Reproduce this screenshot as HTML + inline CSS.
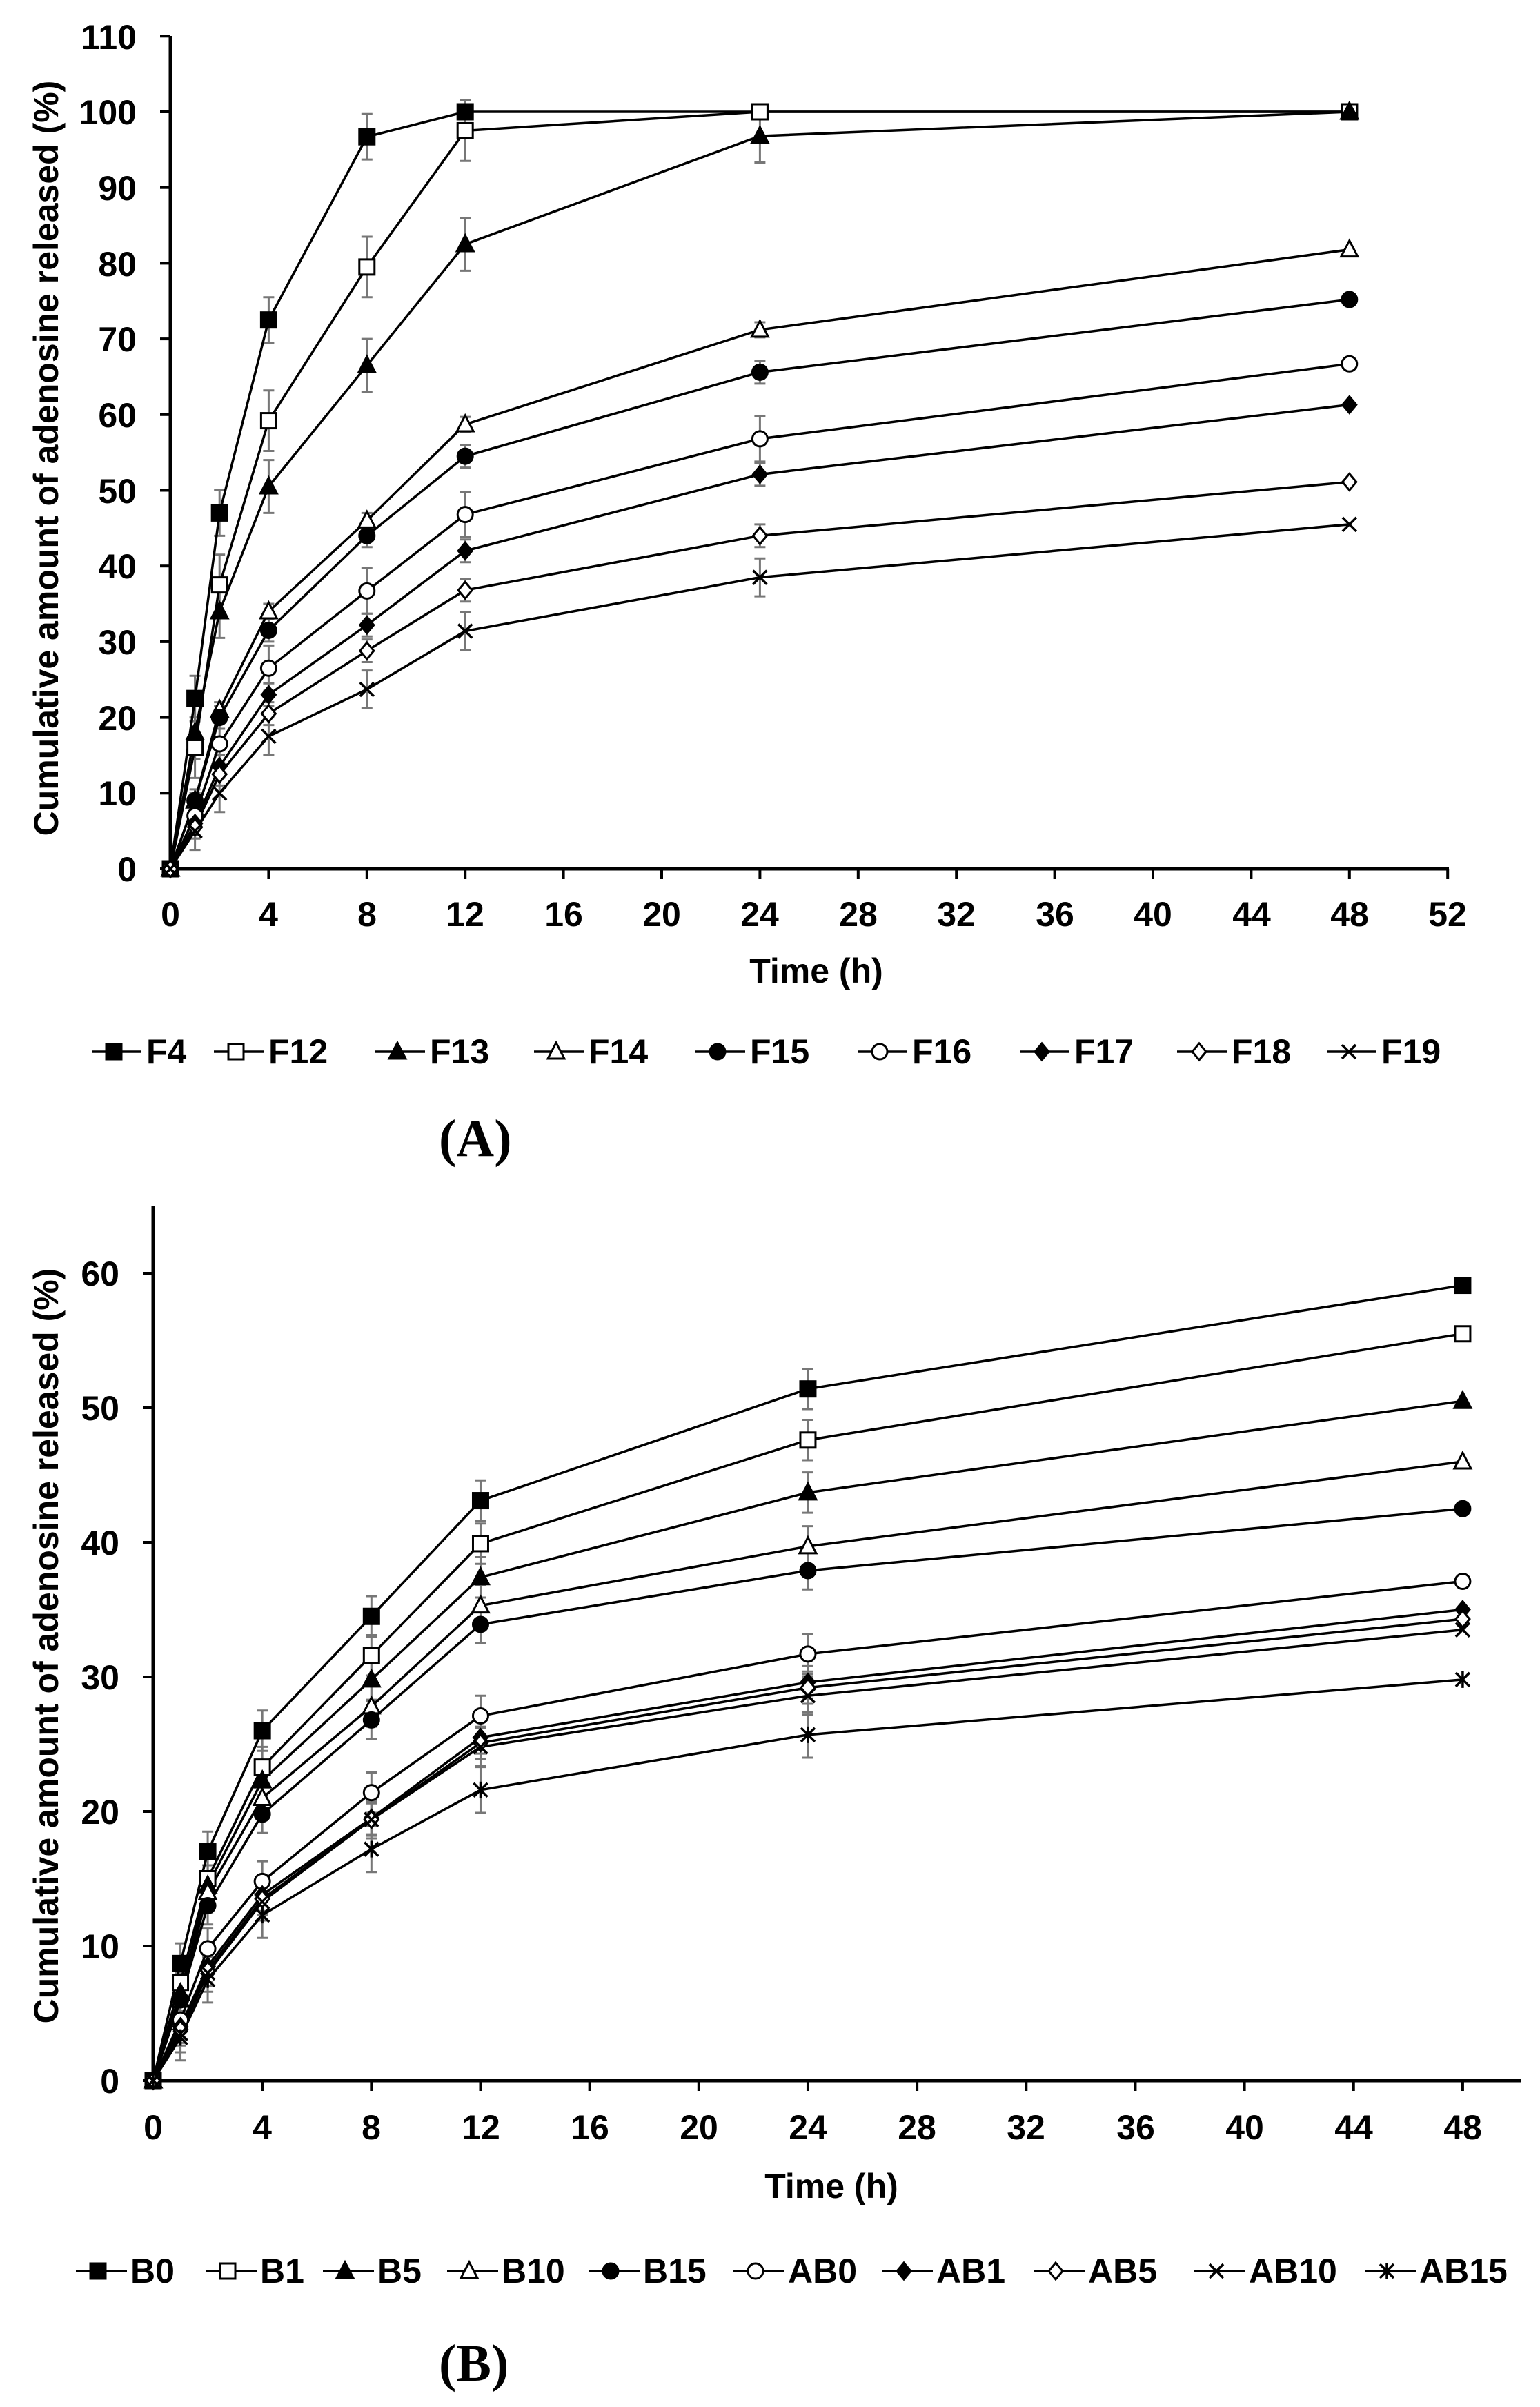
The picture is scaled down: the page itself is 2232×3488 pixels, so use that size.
<!DOCTYPE html>
<html><head><meta charset="utf-8">
<style>
html,body{margin:0;padding:0;background:#fff;}
svg{display:block;}
.t{font-family:"Liberation Sans Narrow","Liberation Sans",sans-serif;font-weight:bold;font-size:50px;fill:#000;}
.tt{font-family:"Liberation Sans",sans-serif;font-weight:bold;font-size:50px;fill:#000;}
.lab{font-family:"Liberation Serif",serif;font-weight:bold;font-size:76px;fill:#000;}
</style></head>
<body>
<svg id="s" width="2232" height="3488" viewBox="0 0 2232 3488" xmlns="http://www.w3.org/2000/svg">
<g id="g"></g>
<g class="t" text-anchor="end">
<text x="198" y="1277">0</text><text x="198" y="1167">10</text><text x="198" y="1058">20</text><text x="198" y="948">30</text><text x="198" y="838">40</text><text x="198" y="729">50</text><text x="198" y="619">60</text><text x="198" y="509">70</text><text x="198" y="400">80</text><text x="198" y="290">90</text><text x="198" y="180">100</text><text x="198" y="71">110</text>
</g>
<g class="t" text-anchor="middle">
<text x="247" y="1342">0</text><text x="389" y="1342">4</text><text x="532" y="1342">8</text><text x="674" y="1342">12</text><text x="817" y="1342">16</text><text x="959" y="1342">20</text><text x="1101" y="1342">24</text><text x="1244" y="1342">28</text><text x="1386" y="1342">32</text><text x="1529" y="1342">36</text><text x="1671" y="1342">40</text><text x="1814" y="1342">44</text><text x="1956" y="1342">48</text><text x="2098" y="1342">52</text>
<text x="1183" y="1424">Time (h)</text>
</g>
<text class="tt" text-anchor="middle" transform="translate(84,664) rotate(-90)">Cumulative amount of adenosine released (%)</text>
<g class="t">
<text x="212" y="1541">F4</text><text x="389" y="1541">F12</text><text x="623" y="1541">F13</text><text x="853" y="1541">F14</text><text x="1087" y="1541">F15</text><text x="1322" y="1541">F16</text><text x="1557" y="1541">F17</text><text x="1785" y="1541">F18</text><text x="2002" y="1541">F19</text>
</g>
<text class="lab" x="636" y="1675">(A)</text>

<g class="t" text-anchor="end">
<text x="173" y="3033">0</text><text x="173" y="2838">10</text><text x="173" y="2643">20</text><text x="173" y="2448">30</text><text x="173" y="2253">40</text><text x="173" y="2058">50</text><text x="173" y="1863">60</text>
</g>
<g class="t" text-anchor="middle">
<text x="222" y="3100">0</text><text x="380" y="3100">4</text><text x="538" y="3100">8</text><text x="697" y="3100">12</text><text x="855" y="3100">16</text><text x="1013" y="3100">20</text><text x="1171" y="3100">24</text><text x="1329" y="3100">28</text><text x="1487" y="3100">32</text><text x="1646" y="3100">36</text><text x="1804" y="3100">40</text><text x="1962" y="3100">44</text><text x="2120" y="3100">48</text>
<text x="1205" y="3185">Time (h)</text>
</g>
<text class="tt" text-anchor="middle" transform="translate(84,2385) rotate(-90)">Cumulative amount of adenosine released (%)</text>
<g class="t">
<text x="189" y="3308">B0</text><text x="377" y="3308">B1</text><text x="547" y="3308">B5</text><text x="727" y="3308">B10</text><text x="932" y="3308">B15</text><text x="1142" y="3308">AB0</text><text x="1357" y="3308">AB1</text><text x="1577" y="3308">AB5</text><text x="1810" y="3308">AB10</text><text x="2057" y="3308">AB15</text>
</g>
<text class="lab" x="636" y="3450">(B)</text>
</svg>
<script>
var NS="http://www.w3.org/2000/svg",G=document.getElementById("g");
function el(n,a){var e=document.createElementNS(NS,n);for(var k in a)e.setAttribute(k,a[k]);G.appendChild(e);return e;}
function line(x1,y1,x2,y2,w,c){el("line",{x1:x1,y1:y1,x2:x2,y2:y2,stroke:c||"#000","stroke-width":w});}
function marker(t,x,y){
 var s=11;
 if(t=="sq"||t=="osq")el("rect",{x:x-s,y:y-s,width:2*s,height:2*s,fill:t=="sq"?"#000":"#fff",stroke:"#000","stroke-width":3});
 else if(t=="tri"||t=="otri")el("polygon",{points:(x)+","+(y-13)+" "+(x-12)+","+(y+10)+" "+(x+12)+","+(y+10),fill:t=="tri"?"#000":"#fff",stroke:"#000","stroke-width":3});
 else if(t=="ci"||t=="oci")el("circle",{cx:x,cy:y,r:11,fill:t=="ci"?"#000":"#fff",stroke:"#000","stroke-width":3});
 else if(t=="di"||t=="odi")el("polygon",{points:x+","+(y-12)+" "+(x+10)+","+y+" "+x+","+(y+12)+" "+(x-10)+","+y,fill:t=="di"?"#000":"#fff",stroke:"#000","stroke-width":3});
 else if(t=="x"){line(x-10,y-10,x+10,y+10,3.5);line(x-10,y+10,x+10,y-10,3.5);}
 else if(t=="st"){line(x-10,y-10,x+10,y+10,3.5);line(x-10,y+10,x+10,y-10,3.5);line(x,y-12,x,y+12,3.5);}
}
var H=[0,1,2,4,8,12,24,48];
function chart(X,Y,series,err){
 series.forEach(function(s,i){
  var e=err[i];
  H.forEach(function(h,j){if(j>0&&j<7&&e&&!(s.d[j]>=99.9)){var x=X(h),y1=Y(s.d[j]-e),y2=Y(s.d[j]+e);line(x,y1,x,y2,3,"#777");line(x-8,y1,x+8,y1,3,"#777");line(x-8,y2,x+8,y2,3,"#777");}});
 });
 series.forEach(function(s){
  var p=H.map(function(h,j){return X(h)+","+Y(s.d[j]);}).join(" ");
  el("polyline",{points:p,fill:"none",stroke:"#000","stroke-width":3.5});
 });
 series.forEach(function(s){H.forEach(function(h,j){marker(s.m,X(h),Y(s.d[j]));});});
}
var XA=function(h){return 247+h*35.6},YA=function(v){return 1259-v*10.97};
line(247,52,247,1261,5);line(245,1259,2100,1259,5);
for(var v=0;v<=110;v+=10)line(232,YA(v),247,YA(v),4);
for(var h=4;h<=52;h+=4)line(XA(h),1259,XA(h),1274,4);
var A=[
{m:"sq",d:[0,22.5,47,72.5,96.7,100,100,100]},
{m:"osq",d:[0,16,37.5,59.2,79.5,97.5,100,100]},
{m:"tri",d:[0,18,34,50.5,66.5,82.5,96.8,100]},
{m:"otri",d:[0,9,21,34,46,58.7,71.2,81.8]},
{m:"ci",d:[0,9,20,31.5,44,54.5,65.6,75.2]},
{m:"oci",d:[0,7,16.5,26.5,36.7,46.8,56.8,66.7]},
{m:"di",d:[0,6,13.5,23,32.2,42,52.1,61.3]},
{m:"odi",d:[0,5.5,12.5,20.5,28.8,36.8,44,51.1]},
{m:"x",d:[0,5,10,17.5,23.7,31.4,38.5,45.5]}];
chart(XA,YA,A,[3,4,3.5,1,1.5,3,1.5,1.5,2.5]);
var XB=function(h){return 222+h*39.54},YB=function(v){return 3015-v*19.5};
line(222,1748,222,3017,5);line(220,3015,2205,3015,5);
for(var v=0;v<=60;v+=10)line(207,YB(v),222,YB(v),4);
for(var h=4;h<=48;h+=4)line(XB(h),3015,XB(h),3030,4);
var B=[
{m:"sq",d:[0,8.7,17,26,34.5,43.1,51.4,59.1]},
{m:"osq",d:[0,7.3,15,23.3,31.6,39.9,47.6,55.5]},
{m:"tri",d:[0,6.5,14.5,22.3,29.8,37.4,43.7,50.5]},
{m:"otri",d:[0,6,14,21,27.8,35.3,39.7,46]},
{m:"ci",d:[0,6,13,19.8,26.8,33.9,37.9,42.5]},
{m:"oci",d:[0,4.5,9.8,14.8,21.4,27.1,31.7,37.1]},
{m:"di",d:[0,4,8.5,13.8,19.5,25.5,29.6,35]},
{m:"odi",d:[0,3.8,8.2,13.5,19.4,25.1,29.2,34.3]},
{m:"x",d:[0,3.5,8,13.3,19.4,24.8,28.6,33.5]},
{m:"st",d:[0,3.2,7.5,12.3,17.2,21.6,25.7,29.8]}];
chart(XB,YB,B,[1.5,1.5,1.5,1.5,1.4,1.5,1.2,1.2,1.4,1.7]);
var LA=[165,342,576,806,1040,1275,1510,1738,1955],mA=["sq","osq","tri","otri","ci","oci","di","odi","x"];
LA.forEach(function(x,i){line(x-32,1524,x+40,1524,3.5);marker(mA[i],x,1524);});
var LB=[142,330,500,680,885,1095,1310,1530,1763,2010],mB=["sq","osq","tri","otri","ci","oci","di","odi","x","st"];
LB.forEach(function(x,i){line(x-32,3291,x+42,3291,3.5);marker(mB[i],x,3291);});
</script>
</body></html>
